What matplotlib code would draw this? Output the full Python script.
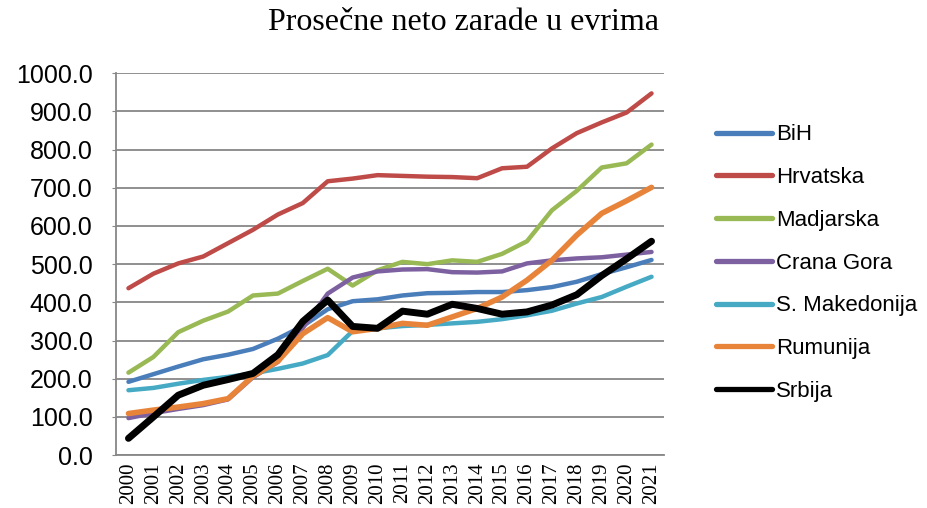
import matplotlib
matplotlib.use("Agg")
import matplotlib.pyplot as plt

# Prosečne neto zarade u evrima, 2000-2021
years = [str(y) for y in range(2000, 2022)]

bih = [192, 212, 232, 251, 263, 278, 305, 338, 382, 403, 408, 418,
       424, 425, 427, 427, 432, 440, 454, 474, 492, 511]
hrvatska = [437, 475, 502, 520, 555, 590, 630, 660, 717, 724, 733, 731,
            729, 728, 725, 751, 755, 803, 843, 871, 897, 947]
madjarska = [216, 257, 322, 352, 376, 418, 423, 456, 488, 444, 484, 506,
             500, 510, 506, 527, 560, 641, 692, 753, 764, 813]
crna_gora = [97, 110, 121, 131, 146, 204, 244, 333, 423, 465, 481, 486,
             487, 479, 478, 481, 502, 510, 515, 518, 525, 532]
makedonija = [170, 176, 187, 197, 205, 214, 226, 240, 262, 325, 332, 338,
              341, 345, 349, 356, 366, 378, 397, 414, 441, 467]
rumunija = [109, 118, 126, 135, 148, 207, 246, 318, 360, 323, 332, 345,
            340, 362, 384, 414, 458, 510, 576, 633, 666, 701]
srbija = [44, 100, 157, 183, 198, 214, 263, 350, 406, 337, 332, 377,
          369, 395, 384, 369, 375, 393, 420, 470, 514, 560]

series = [
    ("BiH", bih, "#4A7EBB", 3.2),
    ("Hrvatska", hrvatska, "#BE4B48", 3.2),
    ("Madjarska", madjarska, "#98B954", 3.2),
    ("Crana Gora", crna_gora, "#7D60A0", 3.2),
    ("S. Makedonija", makedonija, "#46AAC5", 3.2),
    ("Rumunija", rumunija, "#E8843A", 4.0),
    ("Srbija", srbija, "#000000", 5.0),
]

fig = plt.figure(figsize=(9.28, 5.08), dpi=100)
ax = fig.add_axes([0.125, 0.104, 0.5905, 0.752])

x = range(len(years))
for name, vals, color, lw in series:
    ax.plot(x, vals, color=color, linewidth=lw, label=name,
            solid_capstyle="round", solid_joinstyle="round")

ax.set_xlim(-0.5, len(years) - 0.5)
ax.set_ylim(0, 1000)
ax.set_yticks(range(0, 1001, 100))
ax.set_yticklabels([f"{v:.1f}" for v in range(0, 1001, 100)],
                   fontsize=18, family="Liberation Sans")
ax.set_xticks(list(x))
ax.set_xticklabels(years, rotation=90, fontsize=15, family="Liberation Serif")

ax.grid(True, axis="y", color="#878787", linewidth=1.3)
ax.set_axisbelow(True)
for side in ("top", "right"):
    ax.spines[side].set_visible(False)
for side in ("left", "bottom"):
    ax.spines[side].set_color("#878787")
    ax.spines[side].set_linewidth(1.3)
ax.tick_params(axis="y", length=3, color="#878787", pad=14)
ax.tick_params(axis="x", length=0, pad=5)

fig.text(0.5, 0.955, "Prosečne neto zarade u evrima", ha="center", va="center",
         fontsize=23, family="Liberation Serif")

leg = fig.legend(loc="center left", bbox_to_anchor=(0.762, 0.482),
                 frameon=False, prop={"family": "Liberation Sans", "size": 16},
                 handlelength=2.5, handletextpad=0.2, labelspacing=0.98,
                 borderaxespad=0)
for line in leg.get_lines():
    line.set_linewidth(3.8)
    line.set_solid_capstyle("round")

fig.savefig("out.png", dpi=100)
